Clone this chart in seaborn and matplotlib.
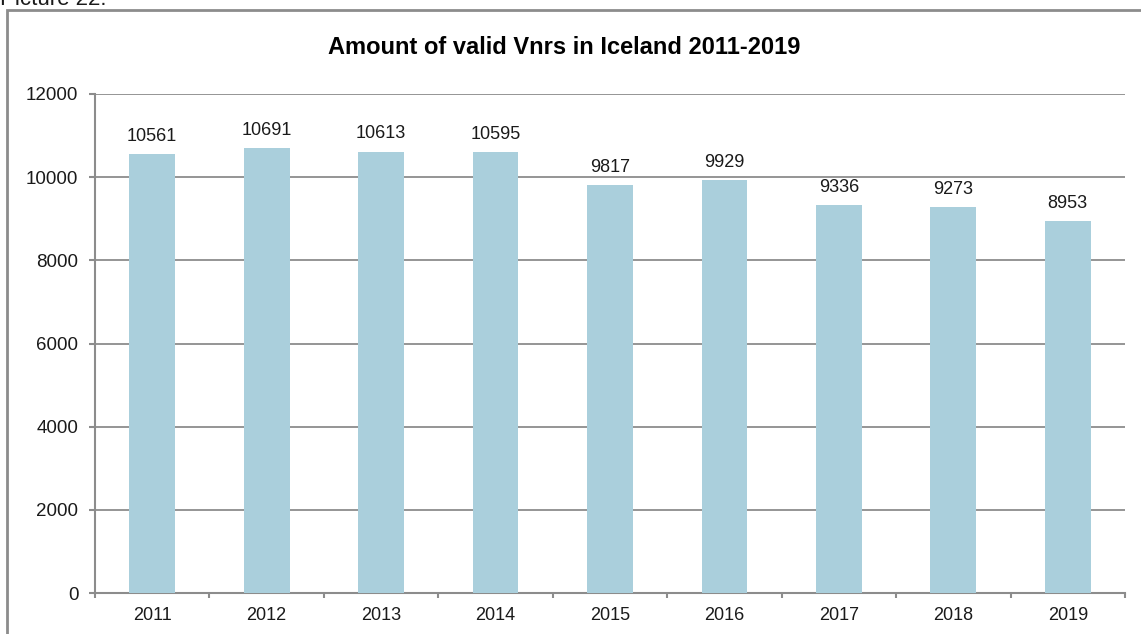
import numpy as np
import pandas as pd
import matplotlib
matplotlib.use("Agg")
import matplotlib.pyplot as plt
import seaborn as sns
from matplotlib.patches import Rectangle

# data
years = ["2011", "2012", "2013", "2014", "2015", "2016", "2017", "2018", "2019"]
vnrs = [10561, 10691, 10613, 10595, 9817, 9929, 9336, 9273, 8953]
y_ticks = [0, 2000, 4000, 6000, 8000, 10000, 12000]

df = pd.DataFrame({"year": years, "count": vnrs})

sns.set_style("white")
plt.rcParams["font.family"] = ["Liberation Sans", "DejaVu Sans"]

grey = "#8c8c8c"
bar_col = "#aacfdc"
txt = "#1a1a1a"

fig = plt.figure(figsize=(11.41, 6.34), dpi=100)
ax = fig.add_axes([95 / 1141, 41 / 634, 1030 / 1141, 499 / 634])

sns.barplot(data=df, x="year", y="count", color=bar_col, width=0.4,
            saturation=1, linewidth=0, ax=ax, zorder=3)

ax.set_ylim(0, 12000)
ax.set_xlim(-0.5, len(years) - 0.5)
ax.set_yticks(y_ticks)
ax.set_yticklabels([str(t) for t in y_ticks], fontsize=13.5)
ax.set_xticklabels(years, fontsize=13)
ax.set_xlabel("")
ax.set_ylabel("")

# horizontal gridlines
ax.yaxis.grid(True, color=grey, linewidth=1.3, zorder=0)
ax.set_axisbelow(True)

for s in ["top", "right"]:
    ax.spines[s].set_visible(False)
for s in ["left", "bottom"]:
    ax.spines[s].set_color(grey)
    ax.spines[s].set_linewidth(1.5)

# excel style ticks between categories
ax.set_xticks(np.arange(-0.5, len(years), 1), minor=True)
ax.tick_params(axis="x", which="major", bottom=True, length=0, pad=10, labelcolor=txt)
ax.tick_params(axis="x", which="minor", bottom=True, length=3.5, width=1.5,
               color=grey, direction="out")
ax.tick_params(axis="y", left=True, length=4, width=1.5, color=grey, direction="out",
               pad=8, labelcolor=txt)

# value labels
for i, v in enumerate(vnrs):
    ax.annotate(str(v), (i, v), xytext=(0, 9.5), textcoords="offset points",
                ha="center", va="baseline", fontsize=13, color=txt)

# title
fig.text(564 / 1141, 1 - 48 / 634, "Amount of valid Vnrs in Iceland 2011-2019",
         ha="center", va="center", fontsize=17, fontweight="bold", color="#000000",
         family=["Liberation Sans Narrow", "Liberation Sans", "DejaVu Sans"])

# caption clipped at the top of the image
fig.text(0.0, 1 - 5 / 634, "Picture 22.", ha="left", va="baseline",
         fontsize=16, color=txt)

# outer frame of the chart
fig.patches.append(Rectangle((7 / 1141, -0.1), 2, 1 - 10 / 634 + 0.1,
                             transform=fig.transFigure, fill=False,
                             edgecolor=grey, linewidth=2))

fig.savefig("out.png", dpi=100)
